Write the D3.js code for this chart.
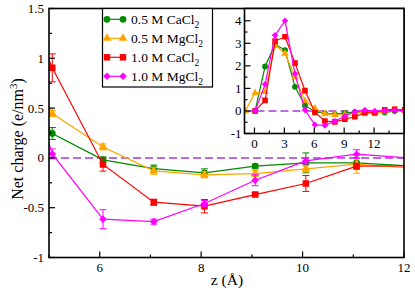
<!DOCTYPE html>
<html>
<head>
<meta charset="utf-8">
<script src="https://cdn.jsdelivr.net/npm/d3@7"></script>
<style>
  body { margin: 0; background: #fff; }
  text { font-family: "Liberation Serif", "Times New Roman", serif; fill: #000; }
</style>
</head>
<body>
<div id="chart"></div>
<script>
// bin centres along z (Angstrom)
var zValues = [-0.935, 0.065, 1.065, 2.065, 3.065, 4.065, 5.065, 6.065, 7.065, 8.065, 9.065, 10.065, 11.065, 12.065, 13.065, 14.065, 15.065];

// net charge density (e/nm^3), null where no point
var ca05 = [null, 0.0, 1.97, 2.95, 2.7, 1.07, 0.245, -0.02, -0.107, -0.15, -0.083, -0.05, -0.05, -0.08, -0.07, 0.0, 0.03];
var mg05 = [0.0, 0.8, 0.85, 2.92, 2.55, 1.51, 0.446, 0.11, -0.13, -0.17, -0.157, -0.11, -0.063, -0.1, -0.02, 0.05, 0.05];
var ca10 = [null, 0.0, 0.47, 3.1, 3.29, 2.12, 0.904, -0.066, -0.445, -0.485, -0.368, -0.257, -0.083, -0.08, 0.05, 0.07, 0.05];
var mg10 = [null, 0.0, 1.18, 3.36, 4.0, 1.65, 0.04, -0.615, -0.64, -0.458, -0.224, -0.03, 0.037, 0.0, 0.02, 0.03, 0.03];

// error bars (only shown in the main panel)
var ca05Err = [0, 0, 0, 0, 0, 0, 0.06, 0.03, 0.035, 0.04, 0.02, 0.1, 0.05, 0, 0, 0, 0];
var mg05Err = [0, 0, 0, 0, 0, 0, 0.03, 0.03, 0.035, 0.03, 0.03, 0.03, 0.09, 0, 0, 0, 0];
var ca10Err = [0, 0, 0, 0, 0, 0, 0.14, 0.067, 0.03, 0.067, 0.02, 0.08, 0.03, 0, 0, 0, 0];
var mg10Err = [0, 0, 0, 0, 0, 0, 0.05, 0.095, 0.025, 0.03, 0.055, 0.03, 0.045, 0, 0, 0, 0];

var seriesNames = ["0.5 M CaCl", "0.5 M MgCl", "1.0 M CaCl", "1.0 M MgCl"];

var mainXTicks = [6, 8, 10, 12];
var mainYTicks = [-1, -0.5, 0, 0.5, 1, 1.5];
var insetXTicks = [0, 3, 6, 9, 12];
var insetYTicks = [-1, 0, 1, 2, 3, 4];

function main()
{
    var W = 415, H = 294;

    var series = [
        {name: seriesNames[0], values: ca05, err: ca05Err, color: "#008b00", shape: "circle"},
        {name: seriesNames[1], values: mg05, err: mg05Err, color: "#ffa500", shape: "triangle"},
        {name: seriesNames[2], values: ca10, err: ca10Err, color: "#ff0000", shape: "square"},
        {name: seriesNames[3], values: mg10, err: mg10Err, color: "#ff00ff", shape: "diamond"}
    ];

    var svg = d3.select("#chart").append("svg")
        .attr("width", W)
        .attr("height", H);

    //main panel
    var mx = d3.scaleLinear().domain([5, 12]).range([49, 404]);
    var my = d3.scaleLinear().domain([-1, 1.5]).range([257.5, 8.5]);

    //inset panel
    var ix = d3.scaleLinear().domain([-1, 15]).range([244.5, 404]);
    var iy = d3.scaleLinear().domain([-1, 4.5]).range([133.5, 9.5]);
    iy.domain([-1, iy.invert(8.5)]).range([133.5, 8.5]);

    var defs = svg.append("defs");
    defs.append("clipPath").attr("id", "clipMain")
        .append("rect").attr("x", 49).attr("y", 8.5).attr("width", 355).attr("height", 249);
    defs.append("clipPath").attr("id", "clipInset")
        .append("rect").attr("x", 244.5).attr("y", 8.5).attr("width", 159.5).attr("height", 125);

    function symbolPath(shape, scale)
    {
        if (shape == "circle") return d3.symbol().type(d3.symbolCircle).size(36 * scale)();
        if (shape == "triangle") return d3.symbol().type(d3.symbolTriangle).size(34 * scale)();
        if (shape == "square") return d3.symbol().type(d3.symbolSquare).size(42 * scale)();
        return d3.symbol().type(d3.symbolSquare).size(29 * scale)();
    }

    function drawPanel(g, x, y, withErr, markScale)
    {
        g.append("line")
            .attr("x1", x.range()[0]).attr("x2", x.range()[1])
            .attr("y1", y(0)).attr("y2", y(0))
            .attr("stroke", "#a03ce0")
            .attr("stroke-width", 1.5)
            .attr("stroke-dasharray", "8,4");

        series.forEach(function(s) {
            var pts = zValues.map(function(z, i) { return {z: z, v: s.values[i], e: s.err[i]}; })
                .filter(function(d) { return d.v != null; });

            var line = d3.line()
                .x(function(d) { return x(d.z); })
                .y(function(d) { return y(d.v); });

            g.append("path")
                .datum(pts)
                .attr("d", line)
                .attr("fill", "none")
                .attr("stroke", s.color)
                .attr("stroke-width", 1.2);

            if (withErr) {
                var eb = g.selectAll(null)
                    .data(pts.filter(function(d) { return d.e > 0; }))
                    .enter().append("g")
                    .attr("stroke", s.color)
                    .attr("stroke-width", 1);
                eb.append("line")
                    .attr("x1", function(d) { return x(d.z); })
                    .attr("x2", function(d) { return x(d.z); })
                    .attr("y1", function(d) { return y(d.v - d.e); })
                    .attr("y2", function(d) { return y(d.v + d.e); });
                eb.append("line")
                    .attr("x1", function(d) { return x(d.z) - 3.5; })
                    .attr("x2", function(d) { return x(d.z) + 3.5; })
                    .attr("y1", function(d) { return y(d.v - d.e); })
                    .attr("y2", function(d) { return y(d.v - d.e); });
                eb.append("line")
                    .attr("x1", function(d) { return x(d.z) - 3.5; })
                    .attr("x2", function(d) { return x(d.z) + 3.5; })
                    .attr("y1", function(d) { return y(d.v + d.e); })
                    .attr("y2", function(d) { return y(d.v + d.e); });
            }

            g.selectAll(null)
                .data(pts)
                .enter().append("path")
                .attr("d", symbolPath(s.shape, markScale))
                .attr("transform", function(d) {
                    return "translate(" + x(d.z) + "," + y(d.v) + ")" + (s.shape == "diamond" ? " rotate(45)" : "");
                })
                .attr("fill", s.color);
        });
    }

    function drawAxes(x, y, xTicks, xMinor, yTicks, yMinor, labelGap)
    {
        var x0 = x.range()[0], x1 = x.range()[1];
        var y0 = y.range()[0], y1 = y.range()[1];
        var ax = svg.append("g").attr("stroke", "#000");

        xMinor.forEach(function(t) {
            ax.append("line").attr("x1", x(t)).attr("x2", x(t)).attr("y1", y0).attr("y2", y0 - 3).attr("stroke-width", 1.2);
        });
        xTicks.forEach(function(t) {
            ax.append("line").attr("x1", x(t)).attr("x2", x(t)).attr("y1", y0).attr("y2", y0 - 6).attr("stroke-width", 1.2);
        });
        yMinor.forEach(function(t) {
            ax.append("line").attr("x1", x0).attr("x2", x0 + 3).attr("y1", y(t)).attr("y2", y(t)).attr("stroke-width", 1.2);
        });
        yTicks.forEach(function(t) {
            ax.append("line").attr("x1", x0).attr("x2", x0 + 6).attr("y1", y(t)).attr("y2", y(t)).attr("stroke-width", 1.2);
        });

        ax.append("rect")
            .attr("x", x0).attr("y", y1)
            .attr("width", x1 - x0).attr("height", y0 - y1)
            .attr("fill", "none")
            .attr("stroke-width", 1.6);

        svg.append("g").selectAll("text")
            .data(xTicks).enter().append("text")
            .attr("x", function(d) { return x(d); })
            .attr("y", y0 + 14)
            .attr("text-anchor", "middle")
            .attr("font-size", 13)
            .text(function(d) { return d; });

        svg.append("g").selectAll("text")
            .data(yTicks).enter().append("text")
            .attr("x", x0 - labelGap)
            .attr("y", function(d) { return y(d) + 4.5; })
            .attr("text-anchor", "end")
            .attr("font-size", 13)
            .text(function(d) { return String(d); });
    }

    //main plot
    var gMain = svg.append("g").attr("clip-path", "url(#clipMain)");
    drawPanel(gMain, mx, my, true, 1);
    drawAxes(mx, my, mainXTicks, [5, 7, 9, 11], mainYTicks,
        [-0.75, -0.25, 0.25, 0.75, 1.25], 5);

    //inset
    svg.append("rect")
        .attr("x", 244.5).attr("y", 8.5)
        .attr("width", 159.5).attr("height", 125)
        .attr("fill", "#fff");
    var gInset = svg.append("g").attr("clip-path", "url(#clipInset)");
    drawPanel(gInset, ix, iy, false, 0.75);
    drawAxes(ix, iy, insetXTicks, [1.5, 4.5, 7.5, 10.5, 13.5], insetYTicks,
        [-0.5, 0.5, 1.5, 2.5, 3.5], 3);

    //axis titles
    var yl = svg.append("text")
        .attr("transform", "translate(23,139) rotate(-90)")
        .attr("text-anchor", "middle")
        .attr("font-size", 16);
    yl.append("tspan").text("Net charge (e/nm");
    yl.append("tspan").attr("font-size", 11).attr("dy", -6).text("3");
    yl.append("tspan").attr("dy", 6).text(")");

    svg.append("text")
        .attr("x", 227)
        .attr("y", 285)
        .attr("text-anchor", "middle")
        .attr("font-size", 15.5)
        .text("z (Å)");

    //legend
    var lg = svg.append("g");
    lg.append("rect")
        .attr("x", 102.5).attr("y", 8.5)
        .attr("width", 110).attr("height", 78.5)
        .attr("fill", "#fff")
        .attr("stroke", "#000")
        .attr("stroke-width", 1.2);

    series.forEach(function(s, i) {
        var yy = 19.3 + i * 19;
        lg.append("line")
            .attr("x1", 107).attr("x2", 123)
            .attr("y1", yy).attr("y2", yy)
            .attr("stroke", s.color)
            .attr("stroke-width", 1.2);
        [107, 123].forEach(function(px) {
            lg.append("path")
                .attr("d", symbolPath(s.shape, 1))
                .attr("transform", "translate(" + px + "," + yy + ")" + (s.shape == "diamond" ? " rotate(45)" : ""))
                .attr("fill", s.color);
        });
        var t = lg.append("text")
            .attr("x", 131)
            .attr("y", yy + 4.5)
            .attr("font-size", 13.5);
        t.append("tspan").text(s.name);
        t.append("tspan").attr("font-size", 9.5).attr("dy", 4).text("2");
    });
}
main();
</script>
</body>
</html>
